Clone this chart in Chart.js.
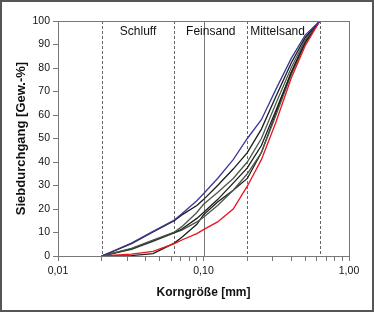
<!DOCTYPE html>
<html>
<head>
<meta charset="utf-8">
<script src="https://cdn.jsdelivr.net/npm/chart.js@4/dist/chart.umd.min.js"></script>
<style>
  html, body { margin: 0; padding: 0; background: #fff; }
  #wrap { width: 374px; height: 312px; }
</style>
</head>
<body>
<div id="wrap"><canvas id="kornChart" width="374" height="312"></canvas></div>
<script>
// sieve sizes in mm
const sieveSizes = [0.02, 0.032, 0.045, 0.063, 0.071, 0.09, 0.1, 0.125, 0.16, 0.2, 0.25, 0.315, 0.4, 0.5, 0.63];

// passing [Gew.-%] per sample
const passBlue = [0, 5.5, 10.5, 15.3, 18, 23.5, 26.5, 33, 41, 50, 58, 71, 84, 94, 100];
const passRed  = [0, 0.8, 2, 5.3, 6.8, 9.5, 11.2, 14.5, 20, 29.7, 41, 57, 75.5, 89.5, 100];
const passK1   = [0, 5.3, 10.2, 15, 17.5, 21.5, 24, 30, 37, 44, 54, 68, 82, 93, 100];
const passK2   = [0, 3.2, 6.8, 10.2, 12.5, 18.5, 22, 27, 33, 40, 50, 65, 80, 92, 100];
const passK3   = [0, 3, 6.5, 10, 11.5, 16, 18.5, 24, 31, 37.5, 47, 62, 78, 91, 100];
const passK4   = [0, 2.8, 6.2, 9.8, 11, 14.5, 16.5, 21.5, 28, 35, 44, 60, 77, 90.5, 100];
const passK5   = [0, 0.2, 1, 5.5, 8, 13.5, 17.5, 23, 28, 33, 44, 61, 78, 91, 100];

// zone boundaries and names
const zoneBounds = [0.02, 0.063, 0.2, 0.63];
const zoneNames = ['Schluff', 'Feinsand', 'Mittelsand'];
const yTicks = [0, 10, 20, 30, 40, 50, 60, 70, 80, 90, 100];

function pts(values) {
    return sieveSizes.map((x, i) => ({ x: x, y: values[i] }));
}

function series(values, color, order) {
    return {
        data: pts(values),
        borderColor: color,
        borderWidth: 1.3,
        pointRadius: 0,
        showLine: true,
        fill: false,
        tension: 0,
        order: order
    };
}

const zonePlugin = {
    id: 'zones',
    beforeDatasetsDraw(chart) {
        const ctx = chart.ctx;
        const x = chart.scales.x;
        const area = chart.chartArea;
        ctx.save();
        zoneBounds.concat([0.1]).forEach(v => {
            const px = Math.round(x.getPixelForValue(v)) + 0.5;
            ctx.beginPath();
            ctx.strokeStyle = v === 0.1 ? '#777' : '#666';
            ctx.lineWidth = 1;
            ctx.setLineDash(v === 0.1 ? [] : [3, 2]);
            ctx.moveTo(px, area.top);
            ctx.lineTo(px, area.bottom);
            ctx.stroke();
        });
        ctx.restore();
    },
    afterDraw(chart) {
        const ctx = chart.ctx;
        const x = chart.scales.x;
        const area = chart.chartArea;
        ctx.save();
        // plot frame
        ctx.strokeStyle = '#777';
        ctx.lineWidth = 1;
        ctx.setLineDash([]);
        ctx.strokeRect(Math.round(area.left) + 0.5, Math.round(area.top) + 0.5,
            Math.round(area.right - area.left), Math.round(area.bottom - area.top));
        // zone names
        ctx.fillStyle = '#111';
        ctx.font = '12px "Liberation Sans", Arial, sans-serif';
        ctx.textAlign = 'center';
        ctx.textBaseline = 'middle';
        zoneNames.forEach((name, i) => {
            const a = x.getPixelForValue(zoneBounds[i]);
            const b = x.getPixelForValue(zoneBounds[i + 1]);
            let cx = (a + b) / 2;
            if (i === zoneNames.length - 1) cx -= 6;
            ctx.fillText(name, cx, area.top + 11);
        });
        // outer frame
        ctx.strokeStyle = '#555';
        ctx.lineWidth = 2;
        ctx.strokeRect(1, 1, chart.width - 2, chart.height - 2);
        ctx.restore();
    }
};

const ctx = document.getElementById('kornChart').getContext('2d');
const chart = new Chart(ctx, {
    type: 'scatter',
    data: {
        datasets: [
            series(passBlue, '#3a3a96', 0),
            series(passRed, '#e8141c', 1),
            series(passK1, '#1c1c1c', 2),
            series(passK2, '#4a5a4a', 3),
            series(passK3, '#1c1c1c', 4),
            series(passK4, '#4a5a4a', 5),
            series(passK5, '#1c1c1c', 6)
        ]
    },
    options: {
        responsive: false,
        animation: false,
        devicePixelRatio: 1,
        layout: { padding: { left: 8, right: 25, top: 21, bottom: 8 } },
        plugins: {
            legend: { display: false },
            tooltip: { enabled: false }
        },
        scales: {
            x: {
                type: 'logarithmic',
                min: 0.01,
                max: 1,
                afterFit: scale => { scale.height = 48; },
                afterBuildTicks: scale => {
                    const t = [];
                    [0.01, 0.1].forEach(d => {
                        for (let k = 1; k < 10; k++) t.push({ value: +(d * k).toFixed(3) });
                    });
                    t.push({ value: 1 });
                    scale.ticks = t;
                },
                grid: { display: true, drawOnChartArea: false, drawTicks: true, tickLength: 5, color: '#777' },
                border: { display: true, color: '#777' },
                ticks: {
                    autoSkip: false,
                    maxRotation: 0,
                    padding: 4,
                    color: '#111',
                    font: { family: '"Liberation Sans", Arial, sans-serif', size: 10.5 },
                    callback: v => ([0.01, 0.1, 1].includes(v) ? v.toFixed(2).replace('.', ',') : '')
                },
                title: {
                    display: true,
                    text: 'Korngröße [mm]',
                    color: '#111',
                    padding: { top: 0, bottom: 4 },
                    font: { family: '"Liberation Sans", Arial, sans-serif', size: 12, weight: 'bold' }
                }
            },
            y: {
                min: 0,
                max: 100,
                afterFit: scale => { scale.width = 50; },
                afterBuildTicks: scale => { scale.ticks = yTicks.map(v => ({ value: v })); },
                grid: { display: true, drawOnChartArea: false, drawTicks: true, tickLength: 5, color: '#777' },
                border: { display: true, color: '#777' },
                ticks: {
                    padding: 3,
                    color: '#111',
                    font: { family: '"Liberation Sans", Arial, sans-serif', size: 10.5 }
                },
                title: {
                    display: true,
                    text: 'Siebdurchgang [Gew.-%]',
                    color: '#111',
                    padding: { top: 6, bottom: 0 },
                    font: { family: '"Liberation Sans", Arial, sans-serif', size: 13, weight: 'bold' }
                }
            }
        }
    },
    plugins: [zonePlugin]
});
</script>
</body>
</html>
